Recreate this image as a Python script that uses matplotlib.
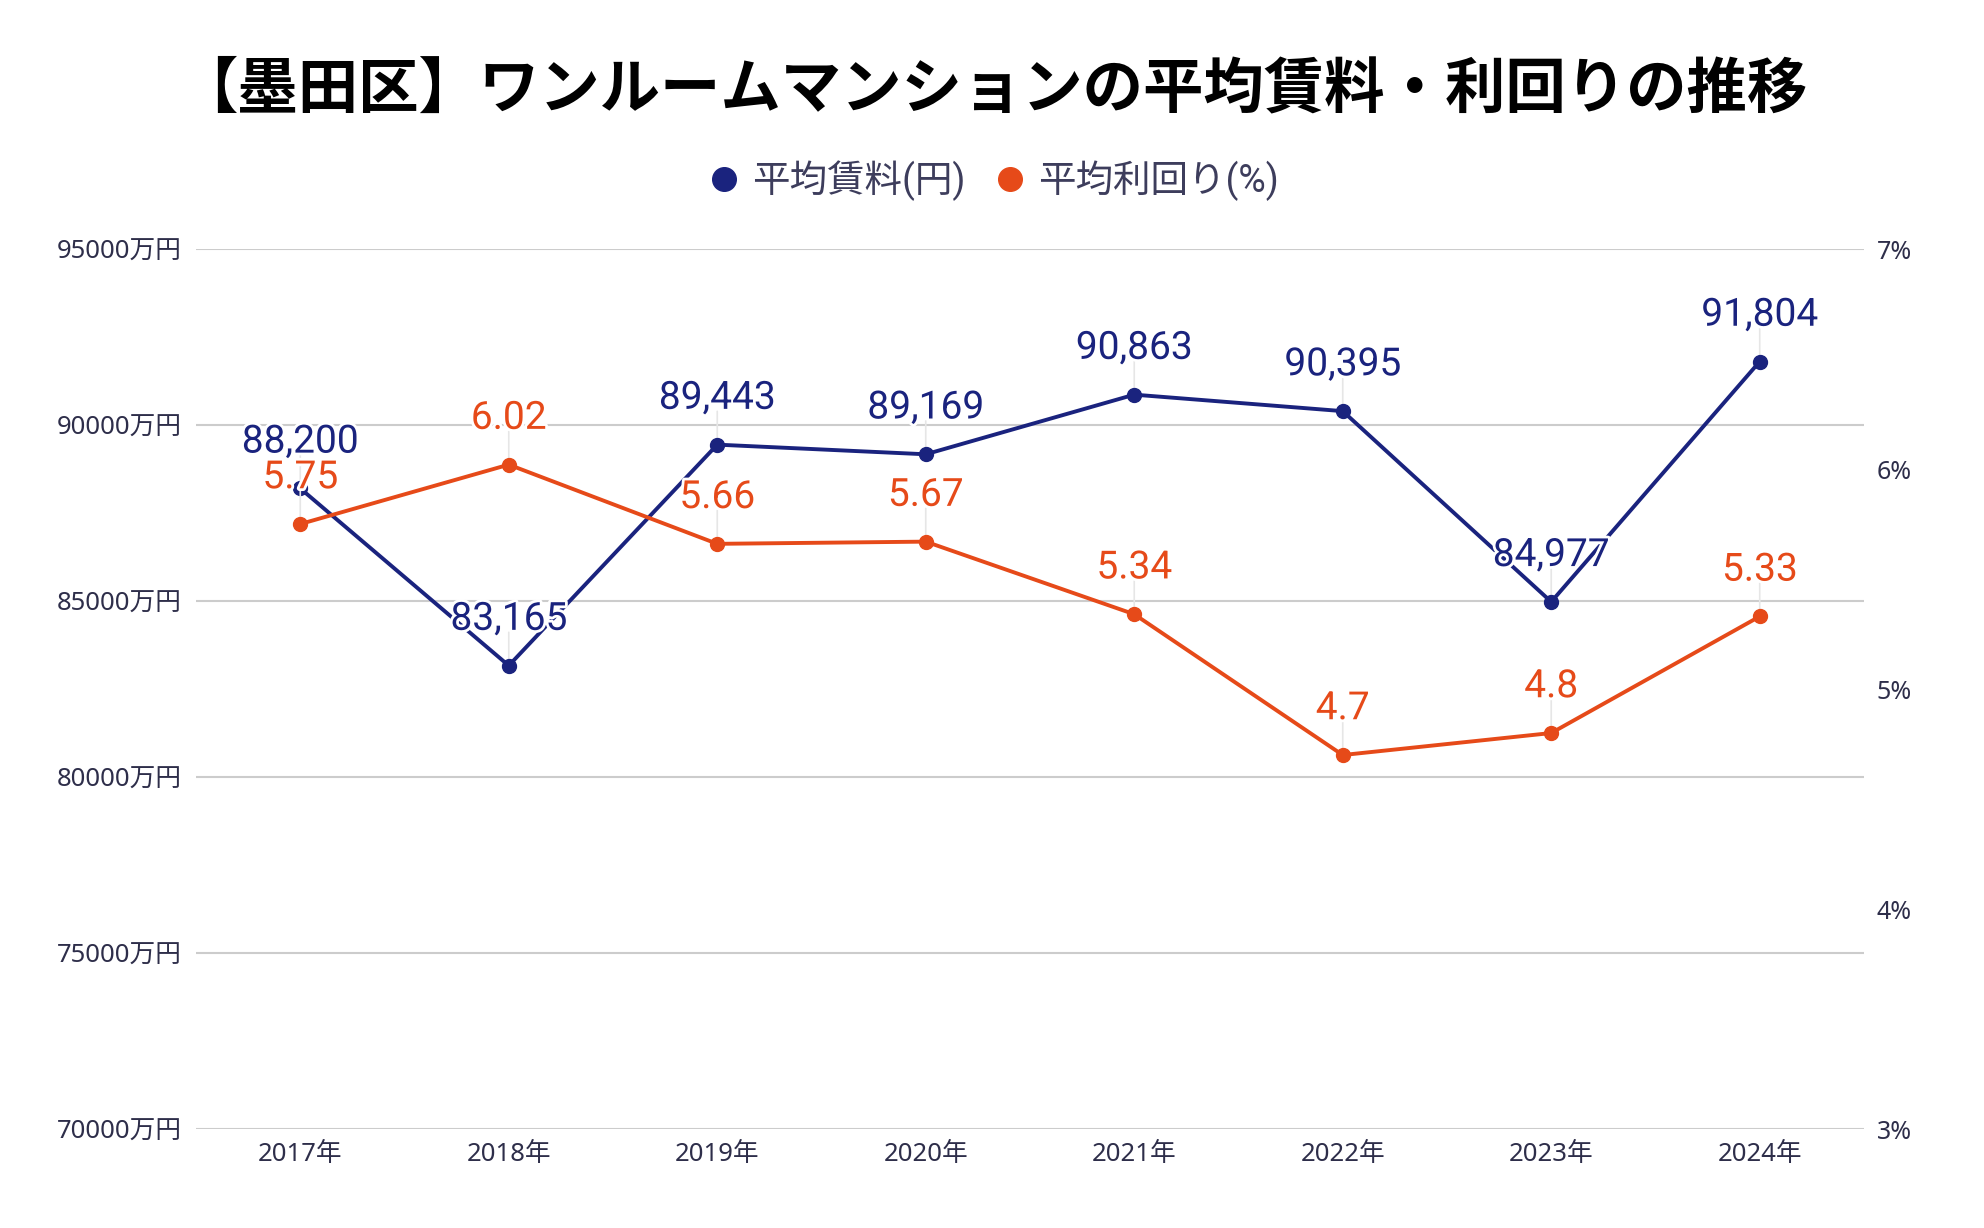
import matplotlib
matplotlib.use('Agg')
import matplotlib.pyplot as plt
import matplotlib.patheffects as pe
from matplotlib.lines import Line2D

# Data
years = ['2017年', '2018年', '2019年', '2020年', '2021年', '2022年', '2023年', '2024年']
rent = [88200, 83165, 89443, 89169, 90863, 90395, 84977, 91804]
yield_pct = [5.75, 6.02, 5.66, 5.67, 5.34, 4.7, 4.8, 5.33]

rent_ticks = [70000, 75000, 80000, 85000, 90000, 95000]
yield_ticks = [3, 4, 5, 6, 7]

title = '【墨田区】ワンルームマンションの平均賃料・利回りの推移'
rent_name = '平均賃料(円)'
yield_name = '平均利回り(%)'

blue = '#1A237E'
orange = '#E64A19'
text_col = '#2e2e4a'
grid_col = '#cccccc'

cjk = ['Noto Sans CJK JP', 'DejaVu Sans']
tick_font = ['Noto Sans', 'Noto Sans CJK JP']
num_font = ['Roboto', 'Noto Sans CJK JP']

fig = plt.figure(figsize=(19.84, 12.28), dpi=100)
ax = fig.add_axes([0.0988, 0.0806, 0.8407, 0.7166])
ax2 = ax.twinx()

x = list(range(len(years)))

# Left axis: rent
ax.set_xlim(-0.5, len(years) - 0.5)
ax.set_ylim(rent_ticks[0], rent_ticks[-1])
ax.set_yticks(rent_ticks)
ax.set_yticklabels([f'{v}万円' for v in rent_ticks], family=tick_font, fontsize=18.5, color=text_col)
ax.set_xticks(x)
ax.set_xticklabels(years, family=tick_font, fontsize=18.5, color=text_col)
ax.yaxis.grid(True, color=grid_col, linewidth=1.5)
ax.set_axisbelow(True)
ax.tick_params(length=0, pad=10)
ax.tick_params(axis='x', pad=9)
for s in ax.spines.values():
    s.set_visible(False)

# Right axis: yield
ax2.set_ylim(yield_ticks[0], yield_ticks[-1])
ax2.set_yticks(yield_ticks)
ax2.set_yticklabels([f'{v}%' for v in yield_ticks], family=tick_font, fontsize=18, color=text_col)
ax2.tick_params(length=0, pad=9)
for s in ax2.spines.values():
    s.set_visible(False)

halo = [pe.withStroke(linewidth=4, foreground='white')]

# Lines
ax.plot(x, rent, color=blue, linewidth=2.8, marker='o', markersize=10, zorder=3)
ax2.plot(x, yield_pct, color=orange, linewidth=2.8, marker='o', markersize=10, zorder=3)

# Data labels with leader lines
for i, v in enumerate(rent):
    ax.annotate('', xy=(i, v), xytext=(0, 24), textcoords='offset points',
                arrowprops=dict(arrowstyle='-', color='#e6e6e6', lw=1.2, shrinkA=0, shrinkB=5), zorder=2)
    ax.annotate(f'{v:,}', xy=(i, v), xytext=(0, 20), textcoords='offset points',
                ha='center', va='bottom', fontsize=28, family=num_font, color=blue,
                path_effects=halo, zorder=5)
for i, v in enumerate(yield_pct):
    ax2.annotate('', xy=(i, v), xytext=(0, 24), textcoords='offset points',
                 arrowprops=dict(arrowstyle='-', color='#e6e6e6', lw=1.2, shrinkA=0, shrinkB=5), zorder=2)
    ax2.annotate(f'{v:g}', xy=(i, v), xytext=(0, 20), textcoords='offset points',
                 ha='center', va='bottom', fontsize=28, family=num_font, color=orange,
                 path_effects=halo, zorder=5)

# Title
fig.text(0.5, 0.927, title, ha='center', va='center', fontsize=43.5,
         fontweight='bold', family=cjk, color='black')

# Legend
handles = [
    Line2D([], [], linestyle='none', marker='o', markersize=17, color=blue, label=rent_name),
    Line2D([], [], linestyle='none', marker='o', markersize=17, color=orange, label=yield_name),
]
leg = fig.legend(handles=handles, loc='center', bbox_to_anchor=(0.5, 0.853), ncol=2,
                 frameon=False, handletextpad=0.25, columnspacing=0.7, handlelength=1.0,
                 prop={'family': num_font, 'size': 27})
for t in leg.get_texts():
    t.set_color('#3d3d5c')

fig.savefig('out.png', dpi=100, facecolor='white')
